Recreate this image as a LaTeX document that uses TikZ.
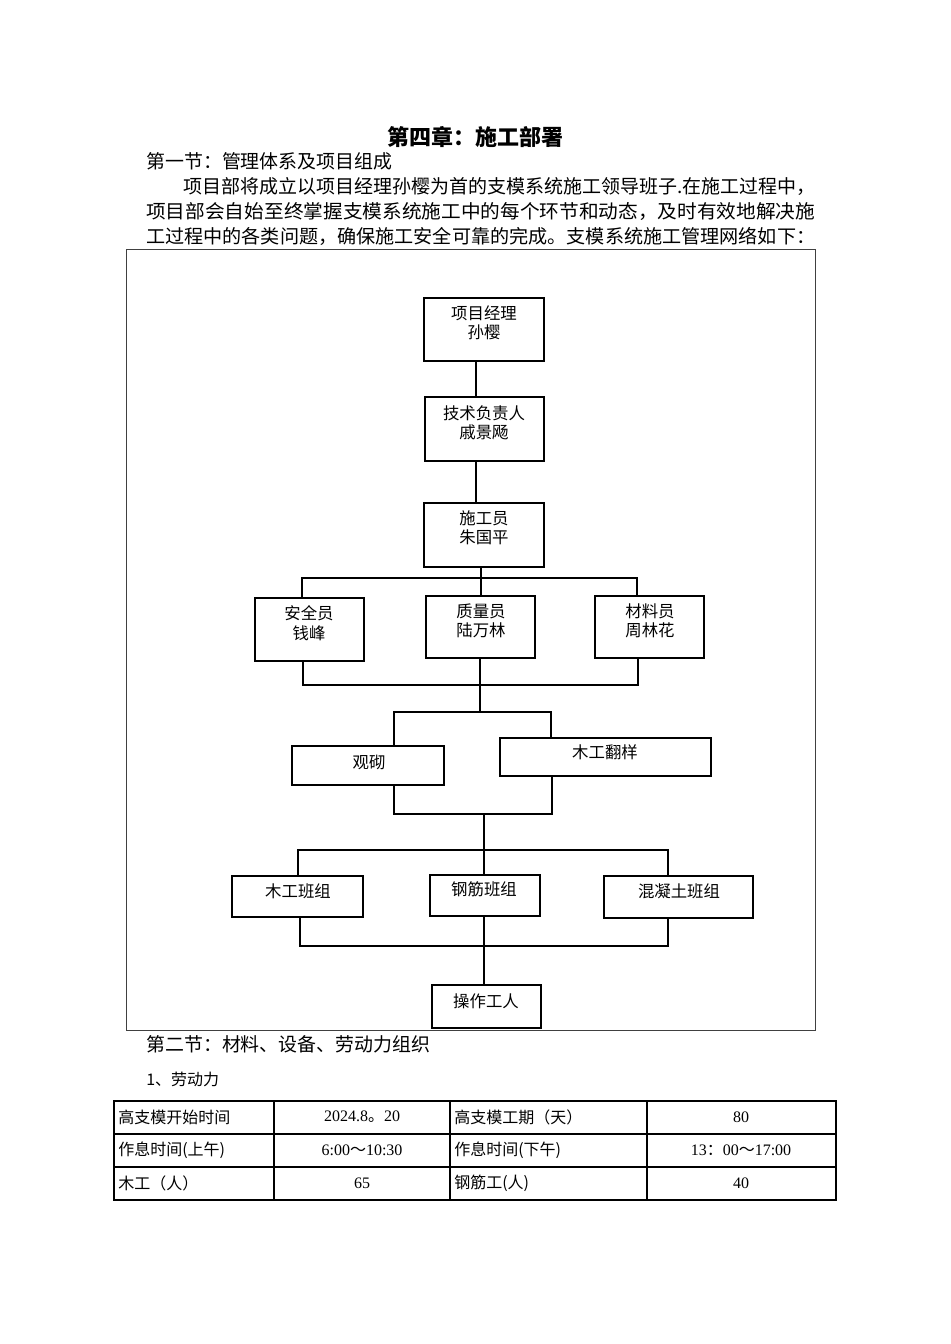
\documentclass[tikz,border=0pt]{standalone}
\usepackage{fontspec}
\usepackage{graphicx}
\setmainfont{Noto Sans CJK SC}
\newfontfamily\latf{Liberation Serif}
\usetikzlibrary{fit}
\newcommand\fitw[2]{\resizebox{#1}{\height}{#2}}
\begin{document}
\begin{tikzpicture}[x=0.75pt,y=-0.75pt,
  box/.style={draw, line width=1.8pt, inner sep=0pt},
  ln/.style={line width=0.9pt},
  bt/.style={font=\fontsize{12.3pt}{14.6pt}\selectfont, align=center, inner sep=0pt},
  body/.style={font=\fontsize{14.2pt}{17pt}\selectfont, anchor=west, inner sep=0pt},
  tt/.style={font=\fontsize{12pt}{14pt}\selectfont, inner sep=0pt},
  tl/.style={tt, anchor=west}]
\useasboundingbox (0,0) rectangle (950,1344);
\fill[white] (0,0) rectangle (950,1344);

% heading text
\node[font=\fontsize{16.5pt}{19pt}\selectfont\bfseries, inner sep=0pt] (title) at (475,137) {第四章：施工部署};
\node[body] (s1) at (146,161) {第一节：管理体系及项目组成};
\node[body] (p1) at (183,187) {\fitw{474pt}{项目部将成立以项目经理孙樱为首的支模系统施工领导班子.在施工过程中，}};
\node[body] (p2) at (146,212) {\fitw{501.75pt}{项目部会自始至终掌握支模系统施工中的每个环节和动态，及时有效地解决施}};
\node[body] (p3) at (146,236) {\fitw{501.75pt}{工过程中的各类问题，确保施工安全可靠的完成。支模系统施工管理网络如下：}};

% frame
\draw[line width=0.7pt, black!75] (126,249) rectangle (815,1030);

% boxes
\node[box, fit={(424,298) (544,361)}] (A) {};
\node[bt] (At) at (484,323) {项目经理\\孙樱};
\node[box, fit={(425,397) (544,461)}] (B) {};
\node[bt] (Bt) at (484,423) {技术负责人\\戚景飏};
\node[box, fit={(424,503) (544,567)}] (C) {};
\node[bt] (Ct) at (484,528) {施工员\\朱国平};
\node[box, fit={(255,598) (364,661)}] (D) {};
\node[bt] (Dt) at (309,623) {安全员\\钱峰};
\node[box, fit={(426,596) (535,658)}] (E) {};
\node[bt] (Et) at (481,621) {质量员\\陆万林};
\node[box, fit={(595,596) (704,658)}] (F) {};
\node[bt] (Ft) at (650,621) {材料员\\周林花};
\node[box, fit={(292,746) (444,785)}] (G) {};
\node[bt] (Gt) at (369,762) {观砌};
\node[box, fit={(500,738) (711,776)}] (H) {};
\node[bt] (Ht) at (605,752) {木工翻样};
\node[box, fit={(232,876) (363,917)}] (I) {};
\node[bt] (It) at (298,891) {木工班组};
\node[box, fit={(430,875) (540,916)}] (J) {};
\node[bt] (Jt) at (484,889) {钢筋班组};
\node[box, fit={(604,876) (753,918)}] (K) {};
\node[bt] (Kt) at (679,891) {混凝土班组};
\node[box, fit={(432,985) (541,1028)}] (L) {};
\node[bt] (Lt) at (486,1001) {操作工人};

% connector coordinates
\coordinate (xab) at (476,0);
\coordinate (xc) at (481,0);
\coordinate (xe) at (480,0);
\coordinate (xj) at (484,0);
\coordinate (xd) at (302,0);
\coordinate (xd2) at (303,0);
\coordinate (xf) at (637,0);
\coordinate (xf2) at (638,0);
\coordinate (xg) at (394,0);
\coordinate (xh) at (551,0);
\coordinate (xh2) at (552,0);
\coordinate (xi) at (298,0);
\coordinate (xi2) at (300,0);
\coordinate (xk) at (668,0);
\coordinate (y1) at (0,578);
\coordinate (y2) at (0,685);
\coordinate (y3) at (0,712);
\coordinate (y4) at (0,814);
\coordinate (y5) at (0,850);
\coordinate (y6) at (0,946);

\draw[ln] (xab |- A.south) -- (xab |- B.north);
\draw[ln] (xab |- B.south) -- (xab |- C.north);
\draw[ln] (xc |- C.south) -- (xc |- E.north);
\draw[ln] (xd |- D.north) |- (xf |- y1) -- (xf |- F.north);
\draw[ln] (xd2 |- D.south) |- (xf2 |- y2) -- (xf2 |- F.south);
\draw[ln] (xe |- E.south) -- (xe |- y3);
\draw[ln] (xg |- G.north) |- (xh |- y3) -- (xh |- H.north);
\draw[ln] (xg |- G.south) |- (xh2 |- y4) -- (xh2 |- H.south);
\draw[ln] (xj |- y4) -- (xj |- J.north);
\draw[ln] (xi |- I.north) |- (xk |- y5) -- (xk |- K.north);
\draw[ln] (xi2 |- I.south) |- (xk |- y6) -- (xk |- K.south);
\draw[ln] (xj |- J.south) -- (xj |- L.north);

% lower text
\node[body] (s2) at (146,1044) {第二节：材料、设备、劳动力组织};
\node[tl] (s3) at (146,1079) {1、劳动力};

% table
\draw[line width=1pt] (114,1101) rectangle (836,1200);
\draw[line width=1pt] (114,1134) -- (836,1134) (114,1167) -- (836,1167);
\draw[line width=1pt] (274,1101) -- (274,1200) (450,1101) -- (450,1200) (647,1101) -- (647,1200);
\node[tl] (c11) at (118,1117) {高支模开始时间};
\node[tt] (c12) at (362,1117) {{\latf 2024.8}。{\latf 20}};
\node[tl] (c13) at (454,1117) {高支模工期（天）};
\node[tt] (c14) at (741,1117) {\latf 80};
\node[tl] (c21) at (118,1150) {作息时间(上午)};
\node[tt] (c22) at (362,1150) {{\latf 6:00}～{\latf 10:30}};
\node[tl] (c23) at (454,1150) {作息时间(下午)};
\node[tt] (c24) at (741,1150) {{\latf 13}：{\latf 00}～{\latf 17:00}};
\node[tl] (c31) at (118,1183) {木工（人）};
\node[tt] (c32) at (362,1183) {\latf 65};
\node[tl] (c33) at (454,1183) {钢筋工(人)};
\node[tt] (c34) at (741,1183) {\latf 40};
\end{tikzpicture}
\end{document}
